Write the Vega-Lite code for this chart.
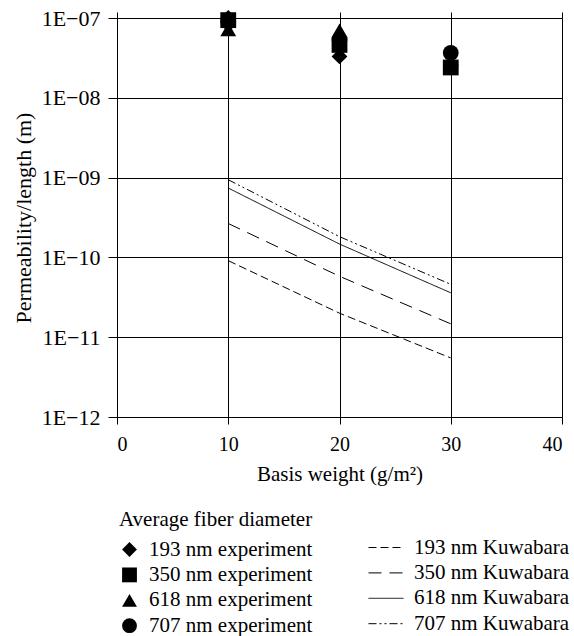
{
  "$schema": "https://vega.github.io/schema/vega-lite/v6.json",
  "autosize": {"type": "none"},
  "padding": {"left": 117, "top": 18, "right": 12, "bottom": 219},
  "width": 445,
  "height": 399,
  "config": {
    "font": "Liberation Serif",
    "view": {"stroke": null},
    "axis": {"labelFont": "Liberation Serif", "titleFont": "Liberation Serif", "labelFontSize": 20, "titleFontSize": 21, "titleFontWeight": "normal", "labelColor": "black", "titleColor": "black", "domainColor": "black", "tickColor": "black", "gridColor": "black", "gridOpacity": 1, "gridWidth": 1, "domainWidth": 1, "tickWidth": 1},
    "legend": {"labelFont": "Liberation Serif", "titleFont": "Liberation Serif", "labelFontSize": 21, "titleFontSize": 21, "titleFontWeight": "normal", "labelColor": "black", "titleColor": "black", "labelLimit": 0, "titleLimit": 0}
  },
  "datasets": {
    "exp": [
      {"basis": 10, "value": 1.0e-7, "series": "193 nm experiment"},
      {"basis": 10, "value": 9.4e-8, "series": "350 nm experiment"},
      {"basis": 10, "value": 7.2e-8, "series": "618 nm experiment"},
      {"basis": 10, "value": 9.0e-8, "series": "707 nm experiment"},
      {"basis": 20, "value": 3.3e-8, "series": "193 nm experiment"},
      {"basis": 20, "value": 4.6e-8, "series": "350 nm experiment"},
      {"basis": 20, "value": 7.0e-8, "series": "618 nm experiment"},
      {"basis": 20, "value": 5.3e-8, "series": "707 nm experiment"},
      {"basis": 30, "value": 2.6e-8, "series": "193 nm experiment"},
      {"basis": 30, "value": 2.4e-8, "series": "350 nm experiment"},
      {"basis": 30, "value": 3.0e-8, "series": "618 nm experiment"},
      {"basis": 30, "value": 3.65e-8, "series": "707 nm experiment"}
    ],
    "kuw": [
      {"basis": 10, "value": 9.1e-11, "series": "193 nm Kuwabara"},
      {"basis": 20, "value": 2.0e-11, "series": "193 nm Kuwabara"},
      {"basis": 30, "value": 5.5e-12, "series": "193 nm Kuwabara"},
      {"basis": 10, "value": 2.66e-10, "series": "350 nm Kuwabara"},
      {"basis": 20, "value": 5.8e-11, "series": "350 nm Kuwabara"},
      {"basis": 30, "value": 1.47e-11, "series": "350 nm Kuwabara"},
      {"basis": 10, "value": 7.4e-10, "series": "618 nm Kuwabara"},
      {"basis": 20, "value": 1.47e-10, "series": "618 nm Kuwabara"},
      {"basis": 30, "value": 3.6e-11, "series": "618 nm Kuwabara"},
      {"basis": 10, "value": 9.4e-10, "series": "707 nm Kuwabara"},
      {"basis": 20, "value": 1.82e-10, "series": "707 nm Kuwabara"},
      {"basis": 30, "value": 4.6e-11, "series": "707 nm Kuwabara"}
    ],
    "topticks": [{"b": 0}, {"b": 40}]
  },
  "layer": [
    {
      "data": {"name": "kuw"},
      "mark": {"type": "line", "color": "black", "strokeWidth": 1},
      "encoding": {
        "x": {"field": "basis", "type": "quantitative", "scale": {"domain": [0, 40], "nice": false},
          "axis": {"values": [0, 10, 20, 30, 40], "title": "Basis weight (g/m²)", "tickSize": 7, "labelPadding": 10, "titlePadding": 9, "grid": true}},
        "y": {"field": "value", "type": "quantitative", "scale": {"type": "log", "domain": [1e-12, 1e-7], "nice": false},
          "axis": {"values": [1e-12, 1e-11, 1e-10, 1e-9, 1e-8, 1e-7], "labelExpr": "'1E−' + format(round(-log(datum.value)/LN10), '02d')", "title": "Permeability/length (m)", "labelFontSize": 22, "titleFontSize": 22, "tickSize": 9, "labelPadding": 8, "titlePadding": 6, "grid": true}},
        "strokeDash": {"field": "series", "type": "nominal",
          "scale": {"domain": ["193 nm Kuwabara", "350 nm Kuwabara", "618 nm Kuwabara", "707 nm Kuwabara"],
            "range": [[8, 4], [13, 8], [1, 0], [8, 3, 2, 3, 2, 3]]},
          "legend": {"orient": "none", "legendX": 241, "legendY": 519, "title": null, "symbolType": "M0,0H4", "symbolSize": 306, "symbolStrokeColor": "black", "symbolFillColor": "transparent", "symbolStrokeWidth": 1, "labelOffset": 35, "rowPadding": 3.4}}
      }
    },
    {
      "data": {"name": "exp"},
      "mark": {"type": "point", "filled": true, "color": "black", "opacity": 1, "size": 250},
      "encoding": {
        "x": {"field": "basis", "type": "quantitative", "axis": null},
        "y": {"field": "value", "type": "quantitative"},
        "shape": {"field": "series", "type": "nominal",
          "scale": {"domain": ["193 nm experiment", "350 nm experiment", "618 nm experiment", "707 nm experiment"],
            "range": ["diamond", "square", "triangle-up", "circle"]},
          "legend": {"orient": "none", "legendX": 2, "legendY": 491, "title": "Average fiber diameter", "symbolSize": 220, "symbolFillColor": "black", "symbolStrokeColor": "black", "symbolOpacity": 1, "labelOffset": 9, "rowPadding": 3.4, "titlePadding": 9}}
      }
    },
    {
      "data": {"name": "topticks"},
      "mark": {"type": "point", "opacity": 0},
      "encoding": {
        "x": {"field": "b", "type": "quantitative",
          "axis": {"orient": "top", "values": [0, 10, 20, 30, 40], "labels": false, "domain": false, "tickSize": 6, "title": null, "grid": false}}
      }
    }
  ],
  "resolve": {"axis": {"x": "independent"}}
}
